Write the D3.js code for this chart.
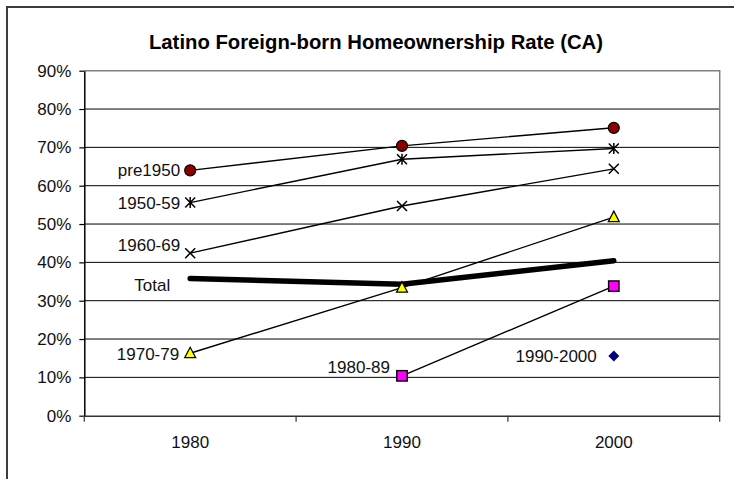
<!DOCTYPE html>
<html>
<head>
<meta charset="utf-8">
<script src="https://cdn.jsdelivr.net/npm/d3@7"></script>
<style>
  html, body { margin: 0; padding: 0; background: #fff; }
  svg { display: block; font-family: Arial, "Liberation Sans", sans-serif; }
</style>
</head>
<body>
<svg id="chart" width="734" height="479"></svg>
<script>
// Census years on the x axis
const years = ["1980", "1990", "2000"];

// Homeownership rate by period of arrival (fractions); null = no data that year
const pre1950   = [0.640, 0.704, 0.751];
const arr195059 = [0.556, 0.669, 0.697];
const arr196069 = [0.424, 0.547, 0.644];
const total     = [0.358, 0.343, 0.404];
const arr197079 = [0.163, 0.334, 0.518];
const arr198089 = [null, 0.104, 0.338];
const arr19902000 = [null, null, 0.156];

// Y axis ticks
const yTicks = [0, 0.1, 0.2, 0.3, 0.4, 0.5, 0.6, 0.7, 0.8, 0.9];

const chartTitle = "Latino Foreign-born Homeownership Rate (CA)";

const series = [
  { name: "pre1950",   values: pre1950,     marker: "circle" },
  { name: "1950-59",   values: arr195059,   marker: "asterisk" },
  { name: "1960-69",   values: arr196069,   marker: "cross" },
  { name: "Total",     values: total,       marker: "none" },
  { name: "1970-79",   values: arr197079,   marker: "triangle" },
  { name: "1980-89",   values: arr198089,   marker: "square" },
  { name: "1990-2000", values: arr19902000, marker: "diamond" }
];

// Label placement relative to each series' first point (dx to text end, dy to middle)
const labelOffsets = {
  "pre1950":   { dx: -10, dy: 0 },
  "1950-59":   { dx: -10, dy: 0 },
  "1960-69":   { dx: -10, dy: -8 },
  "Total":     { dx: -20, dy: 7 },
  "1970-79":   { dx: -11, dy: 1 },
  "1980-89":   { dx: -12, dy: -9 },
  "1990-2000": { dx: -17, dy: 0 }
};

const svg = d3.select("#chart");
const W = 734, H = 479;
const plot = { left: 84.3, right: 719.7, top: 70.7, bottom: 415.7 };

// Outer chart frame
svg.append("rect")
  .attr("x", 7).attr("y", 7)
  .attr("width", W + 20).attr("height", H + 20)
  .attr("fill", "#fff")
  .attr("stroke", "#3c3c3c")
  .attr("stroke-width", 2);

const x = d3.scaleBand().domain(years).range([plot.left, plot.right]).padding(0);
const y = d3.scaleLinear().domain([0, 0.9]).range([plot.bottom, plot.top]);
const cx = d => x(d) + x.bandwidth() / 2;

// Title
svg.append("text")
  .attr("x", 376).attr("y", 49)
  .attr("text-anchor", "middle")
  .attr("font-size", 20.3)
  .attr("font-weight", "bold")
  .attr("fill", "#000")
  .text(chartTitle);

// Gridlines
svg.append("g")
  .selectAll("line")
  .data(yTicks.filter(t => t > 0 && t < 0.9))
  .join("line")
  .attr("x1", plot.left).attr("x2", plot.right)
  .attr("y1", d => y(d)).attr("y2", d => y(d))
  .attr("stroke", "#000").attr("stroke-width", 1);

// Plot area border (top and right)
svg.append("path")
  .attr("d", `M${plot.left},${y(0.9)}H${plot.right}V${plot.bottom}`)
  .attr("fill", "none")
  .attr("stroke", "#808080")
  .attr("stroke-width", 1.5);

// Y axis
const yAxis = d3.axisLeft(y)
  .tickValues(yTicks)
  .tickFormat(d3.format(".0%"))
  .tickSize(5)
  .tickSizeOuter(0)
  .tickPadding(8);
const gy = svg.append("g")
  .attr("transform", `translate(${plot.left},0)`)
  .call(yAxis);
gy.select(".domain").attr("stroke", "#000").attr("stroke-width", 1.5);
gy.selectAll(".tick line").attr("stroke", "#000").attr("stroke-width", 1.2);
gy.selectAll(".tick text")
  .attr("font-size", 17)
  .attr("font-family", "Arial, 'Liberation Sans', sans-serif")
  .attr("fill", "#111");

// X axis: ticks fall on category boundaries
const xAxis = d3.axisBottom(x).tickSize(0).tickSizeOuter(0).tickPadding(20);
const gx = svg.append("g")
  .attr("transform", `translate(0,${plot.bottom})`)
  .call(xAxis);
gx.select(".domain").attr("stroke", "#333").attr("stroke-width", 1.5);
gx.selectAll(".tick text")
  .attr("font-size", 17)
  .attr("font-family", "Arial, 'Liberation Sans', sans-serif")
  .attr("fill", "#111");
const boundaries = years.map(d => x(d)).concat([x(years[years.length - 1]) + x.bandwidth()]);
gx.selectAll(".bound")
  .data(boundaries)
  .join("line")
  .attr("class", "bound")
  .attr("x1", d => d).attr("x2", d => d)
  .attr("y1", 0).attr("y2", 6)
  .attr("stroke", "#333").attr("stroke-width", 1.2);

// Series lines
const line = d3.line()
  .defined(d => d.v !== null)
  .x(d => cx(d.year))
  .y(d => y(d.v));

const pts = s => years.map((yr, i) => ({ year: yr, v: s.values[i] }));

svg.append("g")
  .selectAll("path")
  .data(series)
  .join("path")
  .attr("d", s => line(pts(s)))
  .attr("fill", "none")
  .attr("stroke", "#000")
  .attr("stroke-width", s => s.name === "Total" ? 5.5 : 1.4)
  .attr("stroke-linecap", s => s.name === "Total" ? "round" : "butt");

// Markers
const mg = svg.append("g");
series.forEach(s => {
  pts(s).filter(p => p.v !== null).forEach(p => {
    const px = cx(p.year), py = y(p.v);
    const g = mg.append("g").attr("transform", `translate(${px},${py})`);
    switch (s.marker) {
      case "circle":
        g.append("circle").attr("r", 5.5)
          .attr("fill", "#8b0000").attr("stroke", "#000").attr("stroke-width", 1.2);
        break;
      case "asterisk":
        g.append("path").attr("d", "M-5,-5L5,5M-5,5L5,-5M0,-5.5V5.5")
          .attr("stroke", "#000").attr("stroke-width", 1.5).attr("fill", "none");
        break;
      case "cross":
        g.append("path").attr("d", "M-5,-5L5,5M-5,5L5,-5")
          .attr("stroke", "#000").attr("stroke-width", 1.5).attr("fill", "none");
        break;
      case "triangle":
        g.append("path").attr("d", "M0,-6L5.5,4.5L-5.5,4.5Z")
          .attr("fill", "#ffff00").attr("stroke", "#000").attr("stroke-width", 1.2);
        break;
      case "square":
        g.append("rect").attr("x", -5.2).attr("y", -5.2).attr("width", 10.4).attr("height", 10.4)
          .attr("fill", "#ff00ff").attr("stroke", "#000").attr("stroke-width", 1.4);
        break;
      case "diamond":
        g.append("path").attr("d", "M0,-5.5L5.5,0L0,5.5L-5.5,0Z")
          .attr("fill", "#000080");
        break;
    }
  });
});

// Series labels at each series' first point
svg.append("g")
  .selectAll("text")
  .data(series)
  .join("text")
  .each(function (s) {
    const first = pts(s).find(p => p.v !== null);
    const off = labelOffsets[s.name];
    d3.select(this)
      .attr("x", cx(first.year) + off.dx)
      .attr("y", y(first.v) + off.dy)
      .attr("dy", "0.35em");
  })
  .attr("text-anchor", "end")
  .attr("font-size", 17)
  .attr("fill", "#111")
  .text(s => s.name);
</script>
</body>
</html>
